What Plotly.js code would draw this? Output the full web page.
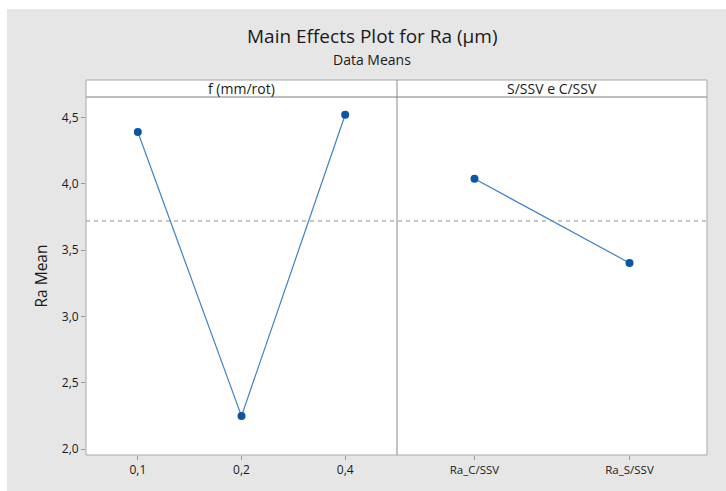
<!DOCTYPE html>
<html>
<head>
<meta charset="utf-8">
<script src="https://cdn.plot.ly/plotly-3.0.1.min.js"></script>
<style>
html,body{margin:0;padding:0;background:#ffffff;width:726px;height:491px;overflow:hidden;}
#chart{position:absolute;left:7px;top:9px;width:719px;height:482px;}
</style>
</head>
<body>
<div id="chart"></div>
<script>
// Data
const feedLevels = ["0,1", "0,2", "0,4"];
const feedMeans = [4.39, 2.25, 4.52];
const coolLevels = ["Ra_C/SSV", "Ra_S/SSV"];
const coolMeans = [4.038, 3.404];
const panelTitles = ["f (mm/rot)", "S/SSV e C/SSV"];
const yTicks = [2.0, 2.5, 3.0, 3.5, 4.0, 4.5];
const yTickLabels = ["2,0", "2,5", "3,0", "3,5", "4,0", "4,5"];

const grandMean = feedMeans.reduce((a, b) => a + b, 0) / feedMeans.length;

const markerColor = "#0b56a4";
const lineColor = "#3f7fcb";
const borderColor = "#a8a8a8";
const textColor = "#1a1a1a";
const font = "Open Sans, Noto Sans, sans-serif";
const split = 311 / 621;

const traces = [
  {x: feedLevels, y: feedMeans, xaxis: "x", yaxis: "y", type: "scatter", mode: "lines+markers",
   line: {color: lineColor, width: 1.2}, marker: {color: markerColor, size: 8}, hoverinfo: "none"},
  {x: coolLevels, y: coolMeans, xaxis: "x2", yaxis: "y", type: "scatter", mode: "lines+markers",
   line: {color: lineColor, width: 1.2}, marker: {color: markerColor, size: 8}, hoverinfo: "none"}
];

const headerH = 17 / 358;

const layout = {
  width: 719, height: 482,
  margin: {l: 79, r: 19, t: 88, b: 36},
  paper_bgcolor: "#e6e6e6",
  plot_bgcolor: "#ffffff",
  showlegend: false,
  font: {family: font, color: textColor, size: 11},
  xaxis: {domain: [0, split], type: "category", range: [-0.5, 2.5], showgrid: false, zeroline: false,
          ticks: "outside", ticklen: 4, tickcolor: "#999", tickfont: {size: 12, color: textColor}, fixedrange: true, showline: false},
  xaxis2: {domain: [split, 1], type: "category", range: [-0.5, 1.5], anchor: "y", showgrid: false, zeroline: false,
          ticks: "outside", ticklen: 4, tickcolor: "#999", tickfont: {size: 11.5, color: textColor}, fixedrange: true, showline: false},
  yaxis: {range: [1.957, 4.654], showgrid: false, zeroline: false, tickvals: yTicks, ticktext: yTickLabels,
          ticks: "outside", ticklen: 4, tickcolor: "#999", tickfont: {size: 12, color: textColor},
          title: {text: "Ra Mean", font: {size: 15.5, color: textColor}, standoff: 10}, fixedrange: true, showline: false},
  shapes: [
    {type: "line", xref: "paper", yref: "y", x0: 0, x1: 1, y0: grandMean, y1: grandMean,
     line: {color: "#8c8c8c", width: 1, dash: "4px,4px"}},
    {type: "rect", xref: "paper", yref: "paper", x0: 0, x1: 1, y0: 1, y1: 1 + headerH,
     fillcolor: "#ffffff", line: {color: borderColor, width: 1}},
    {type: "rect", xref: "paper", yref: "paper", x0: 0, x1: 1, y0: 0, y1: 1,
     line: {color: borderColor, width: 1}},
    {type: "line", xref: "paper", yref: "paper", x0: split, x1: split, y0: 0, y1: 1 + headerH,
     line: {color: "#888888", width: 1}}
  ],
  annotations: [
    {text: "Main Effects Plot for Ra (µm)", xref: "paper", yref: "paper", x: 0.461, y: 1 + 61/358,
     xanchor: "center", yanchor: "middle", showarrow: false, font: {size: 19, color: textColor}},
    {text: "Data Means", xref: "paper", yref: "paper", x: 0.461, y: 1 + 37/358,
     xanchor: "center", yanchor: "middle", showarrow: false, font: {size: 14, color: textColor}},
    {text: panelTitles[0], xref: "paper", yref: "paper", x: split / 2, y: 1 + headerH / 2,
     xanchor: "center", yanchor: "middle", showarrow: false, font: {size: 14, color: textColor}},
    {text: panelTitles[1], xref: "paper", yref: "paper", x: (split + 1) / 2, y: 1 + headerH / 2,
     xanchor: "center", yanchor: "middle", showarrow: false, font: {size: 14, color: textColor}}
  ]
};

Plotly.newPlot("chart", traces, layout, {displayModeBar: false, staticPlot: true});
</script>
</body>
</html>
